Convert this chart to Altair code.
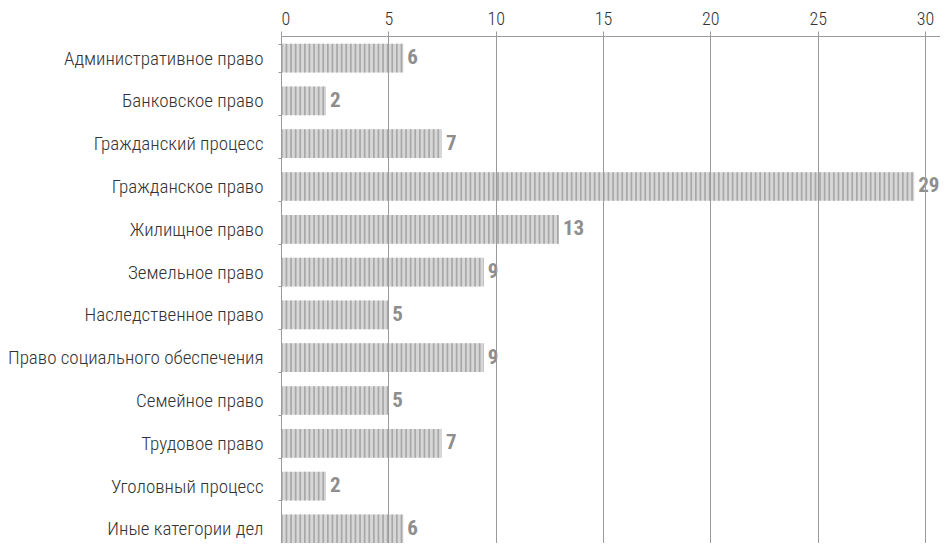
import altair as alt
import pandas as pd

categories = [
    "Административное право",
    "Банковское право",
    "Гражданский процесс",
    "Гражданское право",
    "Жилищное право",
    "Земельное право",
    "Наследственное право",
    "Право социального обеспечения",
    "Семейное право",
    "Трудовое право",
    "Уголовный процесс",
    "Иные категории дел",
]
bar_values = [5.7, 2.1, 7.5, 29.5, 12.95, 9.45, 5.0, 9.45, 5.0, 7.5, 2.1, 5.7]
value_labels = ["6", "2", "7", "29", "13", "9", "5", "9", "5", "7", "2", "6"]
x_ticks = [0, 5, 10, 15, 20, 25, 30]

df = pd.DataFrame({"cat": categories, "val": bar_values, "lab": value_labels})

FONT = "Roboto Condensed, Liberation Sans Narrow, DejaVu Sans Condensed, Roboto, sans-serif"
GRID = "#9a9a9a"

x_scale = alt.Scale(domain=[0, 30.7], nice=False, zero=True)
y_scale = alt.Scale(domain=categories, paddingInner=0.33, paddingOuter=0.18, range=[0, 515])

x_axis = alt.Axis(
    orient="top", values=x_ticks, title=None, grid=True, gridColor=GRID, gridWidth=1,
    domainColor=GRID, tickColor=GRID, tickSize=5, labelPadding=3,
    labelFont=FONT, labelFontSize=18, labelFontWeight=300, labelColor="#333333", zindex=1,
)
y_axis = alt.Axis(
    title=None, domainColor=GRID, tickColor=GRID, tickSize=3, tickBand="extent",
    labelPadding=15, labelFont=FONT, labelFontSize=19, labelFontWeight=300,
    labelColor="#333333", labelLimit=400, zindex=1,
)

base = alt.Chart(df)

bars = base.mark_bar(color="#d7d7d7").encode(
    x=alt.X("val:Q", scale=x_scale, axis=x_axis),
    y=alt.Y("cat:N", scale=y_scale, axis=y_axis, sort=categories),
)

stripes = base.mark_rule(
    color="#a8a8a8", strokeWidth=28.7, strokeDash=[1.7, 2.9], strokeCap="butt"
).encode(
    x=alt.X("z:Q", scale=x_scale),
    x2="val:Q",
    y=alt.Y("cat:N", scale=y_scale, sort=categories),
).transform_calculate(z="0")

texts = base.mark_text(
    align="left", baseline="middle", dx=4, font=FONT, fontSize=21,
    fontWeight="bold", color="#8e8e8e",
).encode(
    x=alt.X("val:Q", scale=x_scale),
    y=alt.Y("cat:N", scale=y_scale, sort=categories),
    text="lab:N",
)

chart = (bars + stripes + texts).properties(
    width=659, height=507,
    autosize=alt.AutoSizeParams(type="none"),
    padding={"left": 273, "top": 28, "right": 0, "bottom": 0},
).configure_view(stroke=None)

chart.save("out.html", embed_options={"renderer": "svg", "actions": False})
